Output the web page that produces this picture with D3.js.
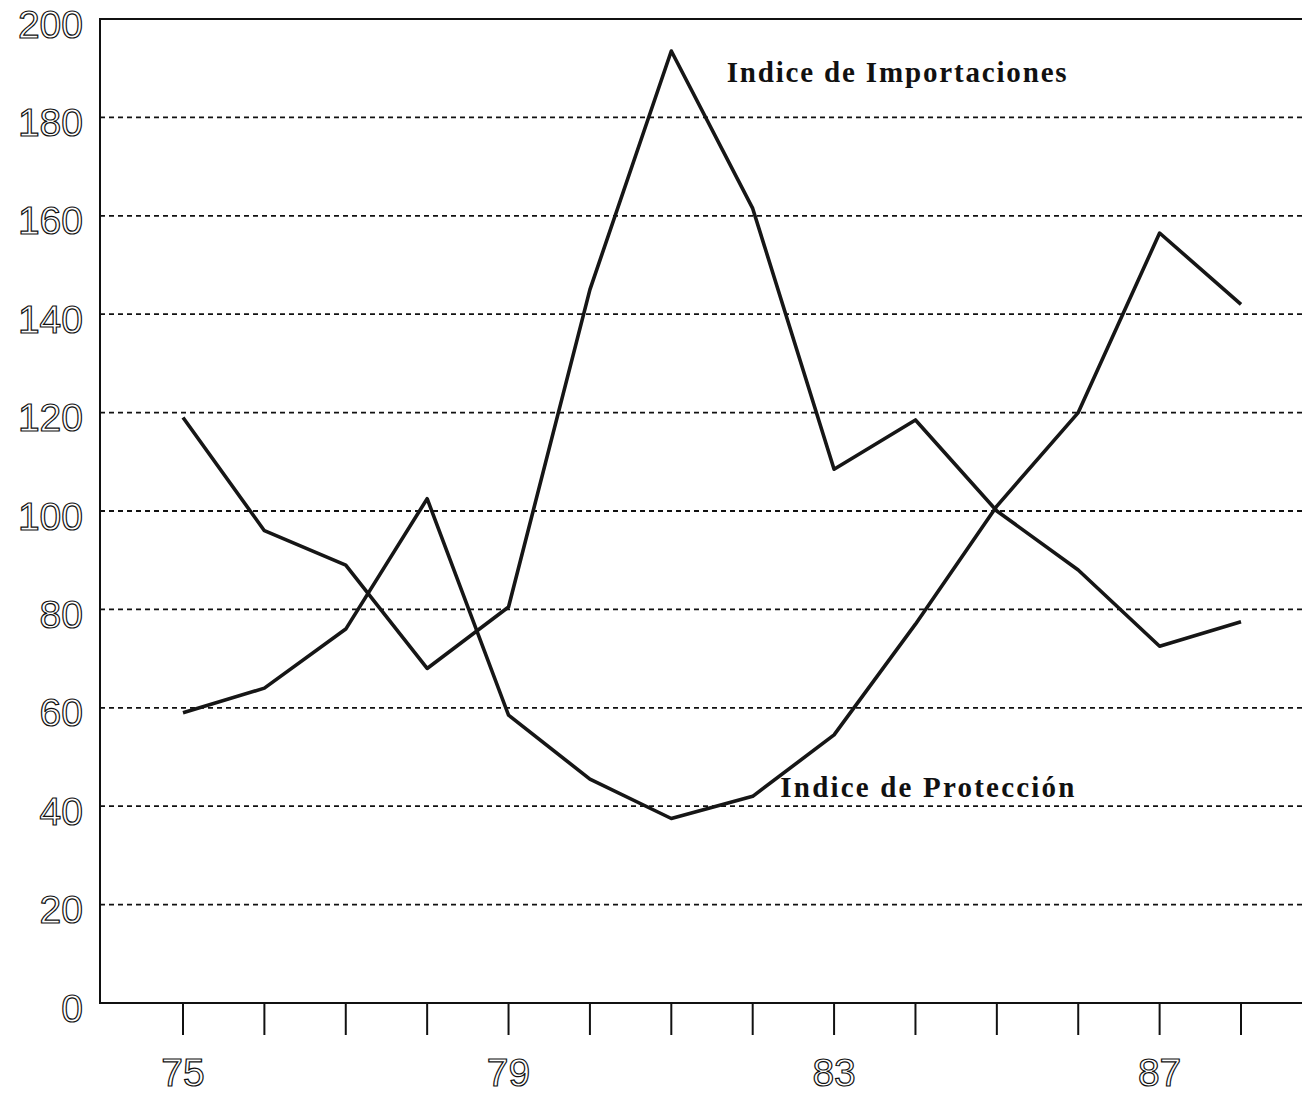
<!DOCTYPE html>
<html>
  <head>
    <meta http-equiv="Content-Type" content="text/html;charset=utf-8">
    <title>Indice de Importaciones / Indice de Protección</title>
    <script type="text/javascript" src="https://d3js.org/d3.v7.min.js"></script>
    <style>
      body {
        margin: 0;
        background: #fff;
        overflow: hidden;
      }
      .grid line {
        stroke: #111;
        stroke-width: 1.8px;
        stroke-dasharray: 5 4;
      }
      .frame {
        stroke: #111;
        stroke-width: 2px;
        fill: none;
      }
      .tick-label {
        font-family: 'Liberation Sans', 'DejaVu Sans', sans-serif;
        font-size: 39px;
        fill: #fff;
        stroke: #111;
        stroke-width: 1.2px;
      }
      path.serie {
        fill: none;
        stroke: #161616;
        stroke-width: 3.6px;
        stroke-linejoin: round;
      }
      text.etiqueta {
        font-family: 'Liberation Serif', 'DejaVu Serif', serif;
        font-weight: bold;
        fill: #111;
      }
    </style>
  </head>
  <body>
    <div id="chart"></div>
    <script>
// datos (años 1975-1988)
var anios = [75, 76, 77, 78, 79, 80, 81, 82, 83, 84, 85, 86, 87, 88];
var importaciones = [119, 96, 89, 68, 80.5, 145, 193.5, 161.5, 108.5, 118.5, 100, 88, 72.5, 77.5];
var proteccion = [59, 64, 76, 102.5, 58.5, 45.5, 37.5, 42, 54.5, 77, 101, 120, 156.5, 142];
var yTicks = [0, 20, 40, 60, 80, 100, 120, 140, 160, 180, 200];
var xLabels = [75, 79, 83, 87];
var nombres = ["Indice de Importaciones", "Indice de Protección"];

var width = 1302,
    height = 1094;

var x = d3.scaleLinear()
  .domain([75, 88])
  .range([183, 1241]);

var y = d3.scaleLinear()
  .domain([0, 200])
  .range([1003, 19]);

var svg = d3.select("#chart").append("svg")
    .attr("width", width)
    .attr("height", height)
    .style("display", "block");

// lineas punteadas
svg.append("g")
    .attr("class", "grid")
  .selectAll("line")
    .data(yTicks.filter(function(d) { return d > 0 && d < 200; }))
  .enter().append("line")
    .attr("x1", 100)
    .attr("x2", width)
    .attr("y1", function(d) { return y(d); })
    .attr("y2", function(d) { return y(d); });

// marco: eje izq, arriba, abajo
svg.append("path")
    .attr("class", "frame")
    .attr("d", "M" + width + "," + y(200) + "H100V" + y(0) + "H" + width);

// marcas del eje x
svg.append("g")
  .selectAll("line")
    .data(anios)
  .enter().append("line")
    .attr("x1", function(d) { return x(d); })
    .attr("x2", function(d) { return x(d); })
    .attr("y1", y(0))
    .attr("y2", y(0) + 32)
    .attr("stroke", "#111")
    .attr("stroke-width", 2);

svg.append("g")
  .selectAll("text")
    .data(yTicks)
  .enter().append("text")
    .attr("class", "tick-label")
    .attr("x", 83)
    .attr("y", function(d) { return y(d) + 5; })
    .attr("text-anchor", "end")
    .attr("dominant-baseline", "central")
    .text(function(d) { return d; });

svg.append("g")
  .selectAll("text")
    .data(xLabels)
  .enter().append("text")
    .attr("class", "tick-label")
    .attr("x", function(d) { return x(d); })
    .attr("y", 1072)
    .attr("text-anchor", "middle")
    .attr("dominant-baseline", "central")
    .text(function(d) { return d; });

var linea = d3.line()
  .x(function(d, i) { return x(anios[i]); })
  .y(function(d) { return y(d); });

svg.selectAll("path.serie")
    .data([importaciones, proteccion])
  .enter().append("path")
    .attr("class", "serie")
    .attr("d", linea);

svg.append("text")
    .attr("class", "etiqueta")
    .attr("x", x(81.68))
    .attr("y", y(187.2))
    .attr("font-size", 29)
    .attr("textLength", 340)
    .attr("lengthAdjust", "spacing")
    .text(nombres[0]);

svg.append("text")
    .attr("class", "etiqueta")
    .attr("x", x(82.34))
    .attr("y", y(41.9))
    .attr("font-size", 29)
    .attr("textLength", 294)
    .attr("lengthAdjust", "spacing")
    .text(nombres[1]);
    </script>
  </body>
</html>
